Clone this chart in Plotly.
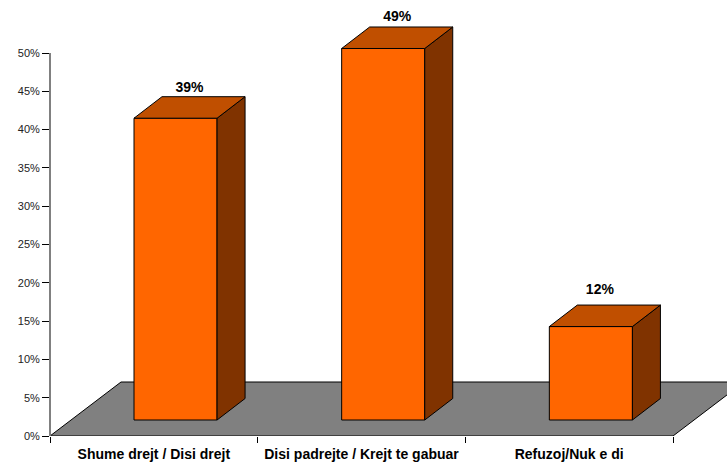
import plotly.graph_objects as go

categories = ["Shume drejt / Disi drejt", "Disi padrejte / Krejt te gabuar", "Refuzoj/Nuk e di"]
heights = [39.4, 48.5, 12.2]
value_labels = ["39%", "49%", "12%"]
y_ticks = [0, 5, 10, 15, 20, 25, 30, 35, 40, 45, 50]
y_tick_labels = [f"{v}%" for v in y_ticks]

W, H = 727, 462
ML, MR, MT, MB = 50, 0, 0, 26
PX_PER_CAT = 207.67
PX_PER_PCT = 7.66
X_MAX = (W - ML) / PX_PER_CAT
Y_MAX = (H - MB) / PX_PER_PCT
BAR_WIDTH = 0.4
FLOOR_DX, FLOOR_DY = 71 / PX_PER_CAT, 54 / PX_PER_PCT   # floor depth in axis units
BASE_DX, BASE_DY = 21.7 / PX_PER_CAT, 16 / PX_PER_PCT   # bar front offset from floor front
BAR_DX, BAR_DY = 28 / PX_PER_CAT, 21.5 / PX_PER_PCT     # bar depth in axis units
LABEL_SHIFT_X = [0 / PX_PER_CAT, 0 / PX_PER_CAT, -5 / PX_PER_CAT]   # hand-placed labels
LABEL_SHIFT_Y = [1 / PX_PER_PCT, 2 / PX_PER_PCT, 8 / PX_PER_PCT]
FONT = "Liberation Sans, Arial, sans-serif"
LINE = dict(color="#000000", width=1)

centers = [i + 0.5 + BASE_DX for i in range(len(categories))]

fig = go.Figure()

# front faces
fig.add_trace(go.Bar(
    x=centers, y=heights, base=[BASE_DY] * len(heights), width=BAR_WIDTH,
    marker=dict(color="#FF6600", line=LINE), hoverinfo="skip", showlegend=False,
))

# side and top faces
for c, h in zip(centers, heights):
    l, r = c - BAR_WIDTH / 2, c + BAR_WIDTH / 2
    b, t = BASE_DY, BASE_DY + h
    fig.add_trace(go.Scatter(
        x=[r, r + BAR_DX, r + BAR_DX, r, r], y=[b, b + BAR_DY, t + BAR_DY, t, b],
        mode="lines", fill="toself", fillcolor="#803300", line=LINE,
        hoverinfo="skip", showlegend=False,
    ))
    fig.add_trace(go.Scatter(
        x=[l, l + BAR_DX, r + BAR_DX, r, l], y=[t, t + BAR_DY, t + BAR_DY, t, t],
        mode="lines", fill="toself", fillcolor="#C04F00", line=LINE,
        hoverinfo="skip", showlegend=False,
    ))

# value labels
fig.add_trace(go.Scatter(
    x=[c + BAR_DX / 2 + s for c, s in zip(centers, LABEL_SHIFT_X)],
    y=[BASE_DY + h + BAR_DY + s for h, s in zip(heights, LABEL_SHIFT_Y)],
    text=value_labels, mode="text", textposition="top center",
    textfont=dict(family=FONT, size=14, color="#000000", weight="bold"),
    hoverinfo="skip", showlegend=False,
))

# floor (below traces)
n = len(categories)
floor_path = (f"M 0 0 L {n} 0 L {n + FLOOR_DX} {FLOOR_DY} "
              f"L {FLOOR_DX} {FLOOR_DY} Z")
fig.add_shape(type="path", path=floor_path, xref="x", yref="y", layer="below",
              fillcolor="#808080", line=LINE)
# value axis line, stops at the top tick
fig.add_shape(type="line", xref="paper", yref="y", x0=0, x1=0, y0=0, y1=y_ticks[-1],
              layer="above", line=dict(color="#808080", width=2))

fig.update_layout(
    template="none",
    width=W, height=H, autosize=False,
    margin=dict(l=ML, r=MR, t=MT, b=MB, pad=0),
    paper_bgcolor="white", plot_bgcolor="rgba(0,0,0,0)",
    font=dict(family=FONT, color="#000000"),
    barmode="overlay",
    xaxis=dict(
        range=[0, X_MAX], showgrid=False, zeroline=False, showline=False,
        tickmode="array", tickvals=[i + 0.5 for i in range(n)], ticktext=categories,
        ticks="", ticklabelstandoff=8,
        tickfont=dict(family=FONT, size=14, color="#000000", weight="bold"),
        minor=dict(tickmode="array", tickvals=list(range(n + 1)), ticks="outside",
                   ticklen=6, tickcolor="#000000", tickwidth=1, showgrid=False),
    ),
    yaxis=dict(
        range=[0, Y_MAX], showgrid=False, zeroline=False, showline=False,
        tickmode="array", tickvals=y_ticks, ticktext=y_tick_labels,
        ticks="outside", ticklen=7, tickcolor="#000000", tickwidth=1,
        tickfont=dict(family=FONT, size=11, color="#222222"),
    ),
)

fig.write_html("out.html", config={"displayModeBar": False},
               post_script="document.body.style.margin='0';")
